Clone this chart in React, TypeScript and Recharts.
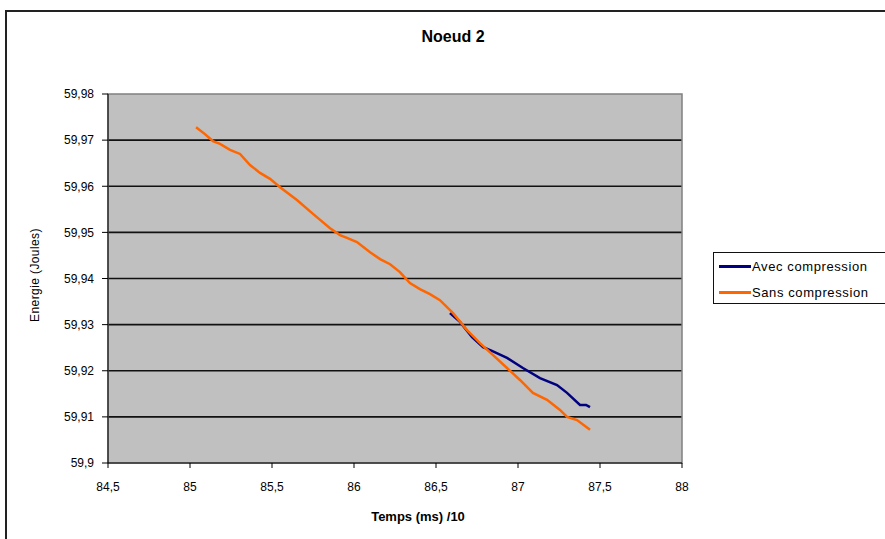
import React from "react";
import { LineChart, Line, XAxis, YAxis, CartesianGrid, ReferenceArea, Legend } from "recharts";

const title = "Noeud 2";
const xTitle = "Temps (ms) /10";
const yTitle = "Energie (Joules)";
const seriesNames = ["Avec compression", "Sans compression"];
const xTicks = [84.5, 85, 85.5, 86, 86.5, 87, 87.5, 88];
const yTicks = [59.9, 59.91, 59.92, 59.93, 59.94, 59.95, 59.96, 59.97, 59.98];

const avecX = [86.585, 86.646, 86.72, 86.787, 86.841, 86.933, 87.03, 87.134, 87.238, 87.299, 87.378, 87.415, 87.439];
const avecY = [59.9325, 59.9306, 59.9273, 59.9251, 59.9243, 59.9228, 59.9206, 59.9184, 59.9169, 59.9152, 59.9126, 59.9126, 59.9121];

const sansX = [85.037, 85.091, 85.14, 85.183, 85.244, 85.305, 85.366, 85.427, 85.488, 85.549, 85.652, 85.75, 85.854, 85.915, 85.957, 86.018, 86.098, 86.159, 86.22, 86.28, 86.341, 86.402, 86.463, 86.524, 86.604, 86.689, 86.768, 86.848, 86.933, 87.012, 87.091, 87.177, 87.256, 87.299, 87.36, 87.439];
const sansY = [59.9728, 59.9713, 59.9698, 59.9692, 59.9679, 59.967, 59.9646, 59.9629, 59.9616, 59.9598, 59.957, 59.954, 59.9509, 59.9494, 59.9488, 59.9479, 59.9457, 59.9442, 59.9431, 59.9414, 59.939, 59.9377, 59.9366, 59.9353, 59.9325, 59.9288, 59.926, 59.9234, 59.9206, 59.918, 59.9152, 59.9137, 59.9115, 59.91, 59.9093, 59.9072];

const avecData = avecX.map((x, i) => ({ x, y: avecY[i] }));
const sansData = sansX.map((x, i) => ({ x, y: sansY[i] }));

const colors = ["#000080", "#FF6600"];
const font = "'Liberation Sans', Arial, sans-serif";
const fmt = (v: number) => String(v).replace(".", ",");

const LegendBox = () => (
  <div
    style={{
      position: "absolute",
      left: 713,
      top: 252,
      width: 200,
      height: 52,
      border: "1.5px solid #111",
      background: "#fff",
      fontFamily: font,
      fontSize: 13,
      letterSpacing: 0.6,
      color: "#000",
      boxSizing: "border-box",
    }}
  >
    {seriesNames.map((n, i) => (
      <div key={n} style={{ position: "absolute", left: 5, top: i === 0 ? 6 : 32, display: "flex", alignItems: "center", whiteSpace: "nowrap" }}>
        <div style={{ width: 32, height: 3, background: colors[i], marginRight: 1 }} />
        <span>{n}</span>
      </div>
    ))}
  </div>
);

export default function App() {
  return (
    <div style={{ position: "absolute", left: 0, top: 0, width: 885, height: 539, overflow: "hidden", background: "#fff" }}>
      <div style={{ position: "absolute", left: 5, top: 10, width: 900, height: 600, border: "2px solid #222", boxSizing: "border-box" }} />
      <LineChart
        width={885}
        height={539}
        margin={{ top: 94, right: 203, bottom: 46, left: 48 }}
        style={{ position: "absolute", left: 0, top: 0 }}
      >
        <CartesianGrid
          vertical={false}
          horizontalValues={[59.91, 59.92, 59.93, 59.94, 59.95, 59.96, 59.97]}
          stroke="#111"
          strokeWidth={1.6}
          fill="#C0C0C0"
          fillOpacity={1}
        />
        <ReferenceArea x1={84.5} x2={88} y1={59.9} y2={59.98} fill="none" stroke="#808080" strokeWidth={1.5} ifOverflow="visible" />
        <XAxis
          dataKey="x"
          type="number"
          domain={[84.5, 88]}
          ticks={xTicks}
          tickFormatter={fmt}
          allowDuplicatedCategory={false}
          stroke="#000"
          tickSize={5}
          tickMargin={14}
          height={30}
          tick={{ fill: "#000", fontSize: 12, fontFamily: font }}
          tickLine={{ stroke: "#000" }}
          interval={0}
        />
        <YAxis
          dataKey="y"
          type="number"
          domain={[59.9, 59.98]}
          ticks={yTicks}
          tickFormatter={fmt}
          stroke="#000"
          tickSize={6}
          tickMargin={8}
          width={60}
          tick={{ fill: "#000", fontSize: 12, fontFamily: font }}
          tickLine={{ stroke: "#000" }}
          interval={0}
        />
        <Legend content={() => null} />
        <Line data={avecData} dataKey="y" name={seriesNames[0]} stroke={colors[0]} strokeWidth={2.5} dot={false} isAnimationActive={false} />
        <Line data={sansData} dataKey="y" name={seriesNames[1]} stroke={colors[1]} strokeWidth={2.5} dot={false} isAnimationActive={false} />
      </LineChart>
      <div style={{ position: "absolute", left: 0, width: 906, top: 28, textAlign: "center", fontFamily: font, fontWeight: "bold", fontSize: 16, color: "#000" }}>{title}</div>
      <div style={{ position: "absolute", left: 318, width: 200, top: 509, textAlign: "center", fontFamily: font, fontWeight: "bold", fontSize: 13, color: "#000" }}>{xTitle}</div>
      <div style={{ position: "absolute", left: 35, top: 276, width: 0, height: 0 }}>
        <div style={{ position: "absolute", left: -80, top: -8, width: 160, textAlign: "center", transform: "rotate(-90deg)", fontFamily: font, fontSize: 12, letterSpacing: 0.4, color: "#000" }}>{yTitle}</div>
      </div>
      <LegendBox />
    </div>
  );
}
